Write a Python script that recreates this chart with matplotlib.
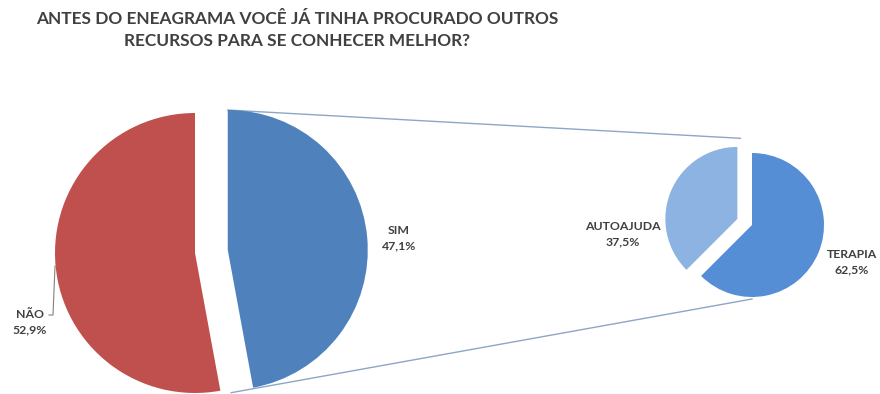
import numpy as np
import matplotlib
matplotlib.use("Agg")
import matplotlib.pyplot as plt

title = "ANTES DO ENEAGRAMA VOCÊ JÁ TINHA PROCURADO OUTROS\nRECURSOS PARA SE CONHECER MELHOR?"

main_labels = ["NÃO", "SIM"]
main_values = [52.9, 47.1]
main_colors = ["#c0504d", "#4f81bd"]

sub_labels = ["AUTOAJUDA", "TERAPIA"]
sub_values = [37.5, 62.5]
sub_colors = ["#8db3e2", "#558ed5"]

W, H = 880, 394
fig = plt.figure(figsize=(W / 100, H / 100), dpi=100)
ax = fig.add_axes([0, 0, 1, 1])

txt_color = "#404040"
fam = ["Lato", "DejaVu Sans"]

# main pie
c1 = (195, H - 253)
r1 = 140
w1, _ = ax.pie(main_values, colors=main_colors, startangle=90, counterclock=True,
               explode=[0, 0.235 * r1], center=c1, radius=r1, frame=True,
               wedgeprops=dict(linewidth=0))
# secondary pie
c2 = (752, H - 225)
r2 = 72
w2, _ = ax.pie(sub_values, colors=sub_colors, startangle=90, counterclock=True,
               explode=[0.22 * r2, 0], center=c2, radius=r2, frame=True,
               wedgeprops=dict(linewidth=0))

ax.set_xlim(0, W)
ax.set_ylim(0, H)
ax.set_aspect("auto")
ax.axis("off")

# connector lines from SIM wedge to secondary pie
sim = w1[1]
sx, sy = sim.center
top_start = (sx + sim.r * np.cos(np.radians(sim.theta2)), sy + sim.r * np.sin(np.radians(sim.theta2)))
bot_start = (sx + sim.r * np.cos(np.radians(sim.theta1)) - 22, sy + sim.r * np.sin(np.radians(sim.theta1)) - 5)
aut = w2[0]
top_end = (aut.center[0] + 3, aut.center[1] + aut.r * 1.12)
bot_end = (c2[0], c2[1] - r2 - 2)
lc = "#8ea6c6"
ax.plot([top_start[0], top_end[0]], [top_start[1], top_end[1]], color=lc, lw=1.0, zorder=0)
ax.plot([bot_start[0], bot_end[0]], [bot_start[1], bot_end[1]], color=lc, lw=1.0, zorder=0)

def pct(v):
    return f"{v:.1f}%".replace(".", ",")

lab_fs = 8.8
kw = dict(ha="center", va="center", fontsize=lab_fs, fontweight="bold",
          color=txt_color, family=fam, linespacing=1.45)
# SIM label
ax.text(399, H - 238, f"{main_labels[1]}\n{pct(main_values[1])}", **kw)
# NÃO label with leader
ax.text(30, H - 322, f"{main_labels[0]}\n{pct(main_values[0])}", **kw)
ax.plot([49, 53, 55], [H - 315, H - 315, H - 266], color="#808080", lw=0.8)
# secondary labels
ax.text(623, H - 234, f"{sub_labels[0]}\n{pct(sub_values[0])}", **kw)
ax.text(852, H - 262, f"{sub_labels[1]}\n{pct(sub_values[1])}", **kw)

fig.text(297 / W, 1 - 30 / H, title, ha="center", va="center", fontsize=12.4,
         fontweight="bold", color=txt_color, family=fam, linespacing=1.45)

fig.savefig("out.png", dpi=100, facecolor="white")
